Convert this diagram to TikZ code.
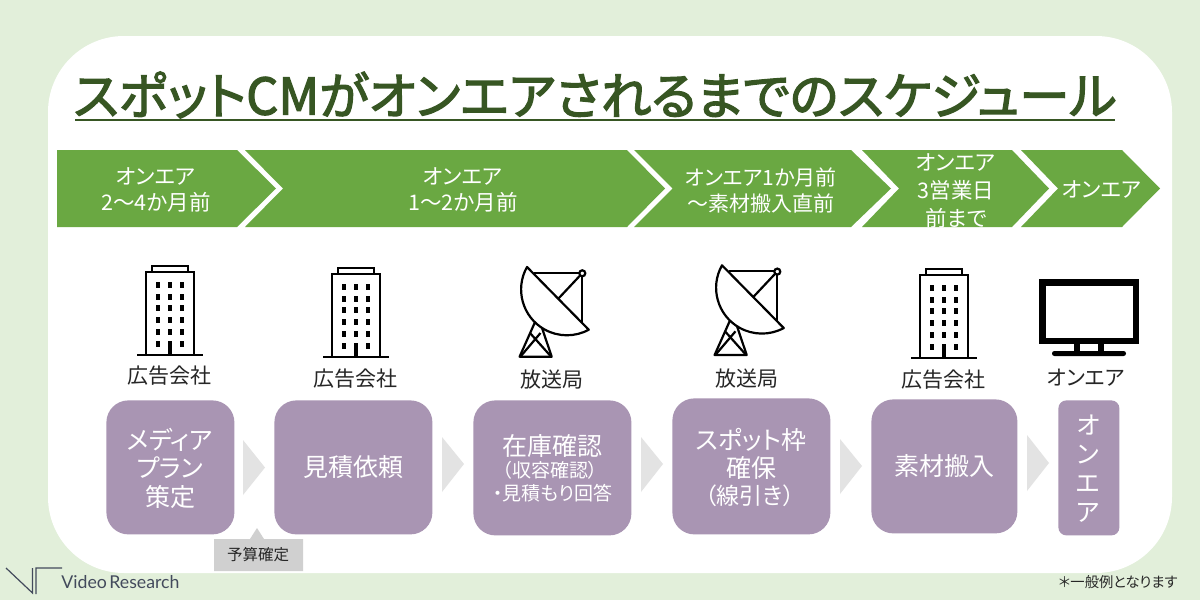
\documentclass[tikz,border=0pt]{standalone}
\usepackage{fontspec}
\setmainfont[RawFeature=+palt]{Noto Sans CJK JP}
\newfontfamily\titlefont[RawFeature=+palt,FakeBold=2.5]{Noto Sans CJK JP}
\newfontfamily\logofont{Lato}
\newcommand{\pxf}[1]{\fontsize{\dimexpr #1pt/2\relax}{\dimexpr #1pt*3/5\relax}\selectfont}
\definecolor{pagegreen}{HTML}{E2EFDA}
\definecolor{titlegreen}{HTML}{375623}
\definecolor{chevgreen}{HTML}{6AA842}
\definecolor{boxpurple}{HTML}{A995B3}
\definecolor{arrowgray}{HTML}{E3E3E3}
\definecolor{notegray}{HTML}{D0D0D0}
\definecolor{logoink}{HTML}{434A5C}
\tikzset{
  x=0.5pt,y=-0.5pt,
  chev/.style={fill=chevgreen,draw=none},
  chevtext/.style={text=white,align=center,inner sep=0pt,font=\pxf{21.5}},
  lbl/.style={text=black!85,inner sep=0pt,font=\pxf{21}},
  stepbox/.style={fill=boxpurple,draw=none,rounded corners=11pt,inner sep=0pt,anchor=north west},
  boxtext/.style={text=white,align=center,inner sep=0pt,font=\pxf{25}},
  gapmark/.style={fill=arrowgray,draw=none},
  ink/.style={draw=black,line width=1.1pt},
  pics/building/.style={code={
    \draw[ink,line cap=butt] (-18,-89)rectangle(18,-83);
    \draw[ink,fill=white] (-24,-83)rectangle(24,0);
    \draw[ink] (-33,0)--(33,0);
    \foreach \cx in {-12,0,12}\foreach \cy in {-70,-58,-47,-35,-23}
      \fill[black] (\cx-2.4,\cy-3.4) rectangle (\cx+2.4,\cy+3.4);
    \fill[black] (-14.4,-14.4) rectangle (-9.6,-7.6);
    \fill[black] (9.6,-14.4) rectangle (14.4,-7.6);
    \fill[black] (-2.4,-14) rectangle (2.4,0);
  }},
  pics/dish/.style={code={
    \draw[ink,line join=round] (535.5,321)--(519.6,356.7)--(551.7,356.7)--(540,322);
    \draw[ink] (530,333)--(551,356.5) (540.5,333)--(520.5,356.5);
    \draw[ink] (534,273)--(579.3,273);
    \draw[ink] (582.3,276.3)--(582.3,325);
    \draw[ink] (580,275.6)--(558,299);
    \draw[ink,fill=white] (582.3,273.3) circle[radius=3];
    \draw[ink,fill=white,line join=round] (527,267) arc[start angle=209.4,end angle=61.5,radius=45.8] -- cycle;
  }},
}
\begin{document}
\begin{tikzpicture}
\useasboundingbox (0,0) rectangle (1200,600);
\fill[pagegreen] (0,0) rectangle (1200,600);
\fill[white,rounded corners=38pt] (48,36) rectangle (1172,573);

\node[inner sep=0pt,text=titlegreen,font=\titlefont\pxf{50.5}] (title) at (595,95) {スポットCMがオンエアされるまでのスケジュール};
\coordinate (ulL) at (75,120); \coordinate (ulR) at (1115,120);
\draw[titlegreen,line width=1pt] (ulL)--(ulR);

\fill[chev] (57,150)--(237,150)--(276,188.5)--(237,227)--(57,227)--cycle;
\fill[chev] (245,150)--(627,150)--(665,188.5)--(627,227)--(245,227)--(283,188.5)--cycle;
\fill[chev] (634,150)--(851,150)--(891,188.5)--(851,227)--(634,227)--(672.5,188.5)--cycle;
\fill[chev] (862,150)--(1012,150)--(1049,188.5)--(1012,227)--(862,227)--(899,188.5)--cycle;
\fill[chev] (1021,150)--(1122,150)--(1160,188.5)--(1122,227)--(1021,227)--(1058,188.5)--cycle;

\node[chevtext] (c1) at (156,190) {オンエア\\[0.5pt]2～4か月前};
\node[chevtext] (c2) at (463,190) {オンエア\\[0.5pt]1～2か月前};
\node[chevtext,font=\pxf{21}] (c3) at (761,190.5) {オンエア1か月前\\[0.5pt]～素材搬入直前};
\node[chevtext] (c4) at (956,191) {オンエア\\[1pt]3営業日\\[1pt]前まで};
\node[chevtext] (c5) at (1102,189) {オンエア};

\pic at (170,355) {building};
\pic at (356,357) {building};
\pic at (0,0) {dish};
\pic at (195,-1.7) {dish};
\pic at (944,358) {building};

\fill[black] (1039,279) rectangle (1139,344);
\fill[white] (1045.5,286) rectangle (1132.5,338);
\fill[black] (1074,344) rectangle (1080,351);
\fill[black] (1098,344) rectangle (1104,351);
\fill[black,rounded corners=1.2pt] (1052,351) rectangle (1126,356);

\node[lbl] (l1) at (169,376) {広告会社};
\node[lbl] (l2) at (355,379) {広告会社};
\node[lbl] (l3) at (552,380) {放送局};
\node[lbl] (l4) at (747,379) {放送局};
\node[lbl] (l5) at (943,380) {広告会社};
\node[lbl] (l6) at (1086,378) {オンエア};

\node[stepbox,minimum width=64pt,minimum height=67pt] (b1) at (106,400) {};
\node[stepbox,minimum width=79pt,minimum height=67pt] (b2) at (274,400) {};
\node[stepbox,minimum width=79pt,minimum height=67.5pt] (b3) at (473,400) {};
\node[stepbox,minimum width=79pt,minimum height=68pt] (b4) at (672,398) {};
\node[stepbox,minimum width=73pt,minimum height=67pt] (b5) at (871,399) {};
\node[stepbox,rounded corners=4pt,minimum width=30.5pt,minimum height=67.5pt] (b6) at (1058,400) {};

\node[boxtext] at (170,440) {メディア};
\node[boxtext] at (170,468) {プラン};
\node[boxtext] at (170,497) {策定};
\node[boxtext] at (b2.center) {見積依頼};
\node[boxtext] at (552,446) {在庫確認};
\node[boxtext,font=\pxf{19}] at (550,470) {（収容確認）};
\node[boxtext,font=\pxf{19}] at (553,493) {・見積もり回答};
\node[boxtext] at (751,440) {スポット枠};
\node[boxtext] at (751,468) {確保};
\node[boxtext,font=\pxf{23}] at (750,496) {（線引き）};
\node[boxtext] at (b5.center) {素材搬入};
\node[boxtext] at (1088,425) {オ};
\node[boxtext] at (1088,455) {ン};
\node[boxtext] at (1088,484) {エ};
\node[boxtext] at (1088,513) {ア};

\fill[gapmark] (243,440)--(265,467.5)--(243,495)--cycle;
\fill[gapmark] (442,437)--(464,464)--(442,492)--cycle;
\fill[gapmark] (641,437)--(663,464)--(641,492)--cycle;
\fill[gapmark] (840,439)--(862,466)--(840,494)--cycle;
\fill[gapmark] (1027,435)--(1049,463)--(1027,491)--cycle;

\fill[notegray] (214,539)--(250,539)--(257,528)--(264,539)--(303,539)--(303,571)--(214,571)--cycle;
\node[inner sep=0pt,text=black!85,font=\pxf{15.5}] (note) at (258,554.5) {予算確定};

\draw[logoink,line width=0.6pt] (6,568)--(32.5,593)--(32.5,568) (36,594)--(36,568)--(62,568);
\node[inner sep=0pt,anchor=west,text=logoink,font=\logofont\pxf{17.7}] (logo) at (61,582) {Video\hspace{-1pt} Research};
\node[inner sep=0pt,anchor=east,text=black!85,font=\pxf{14.3}] (foot) at (1178,582) {＊一般例となります};
\end{tikzpicture}
\end{document}
